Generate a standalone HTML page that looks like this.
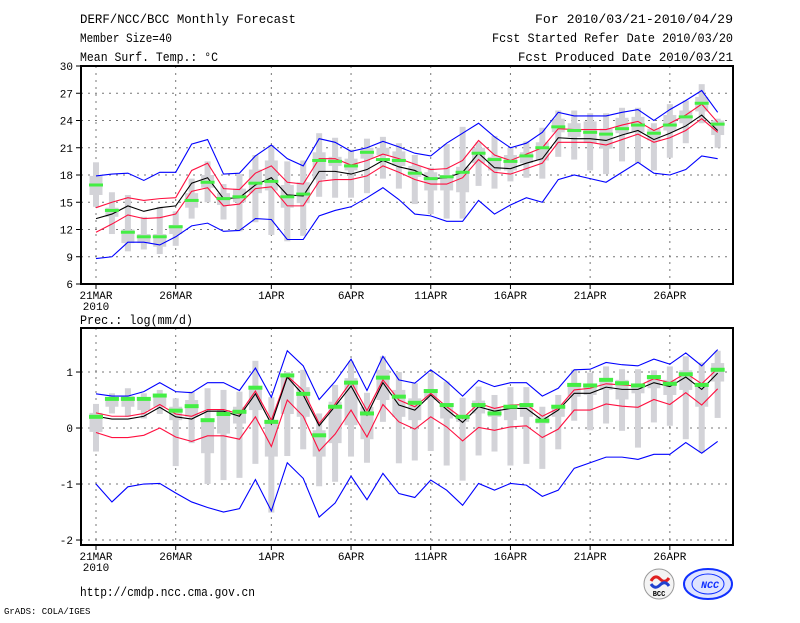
<!DOCTYPE html>
<html><head><meta charset="utf-8"><style>
body{margin:0;background:#fff;width:800px;height:618px;overflow:hidden}
svg text{font-family:"Liberation Mono","DejaVu Sans Mono",monospace;fill:#000}
</style></head><body>
<svg id="c" width="800" height="618" viewBox="0 0 800 618" xmlns="http://www.w3.org/2000/svg">
<text x="80" y="23" font-size="13" textLength="216" lengthAdjust="spacingAndGlyphs">DERF/NCC/BCC Monthly Forecast</text>
<text x="80" y="42" font-size="13" textLength="92" lengthAdjust="spacingAndGlyphs">Member Size=40</text>
<text x="80" y="61" font-size="13" textLength="138" lengthAdjust="spacingAndGlyphs">Mean Surf. Temp.: °C</text>
<text x="535" y="23" font-size="13" textLength="198" lengthAdjust="spacingAndGlyphs">For 2010/03/21-2010/04/29</text>
<text x="492" y="42" font-size="13" textLength="241" lengthAdjust="spacingAndGlyphs">Fcst Started Refer Date 2010/03/20</text>
<text x="518" y="61" font-size="13" textLength="215" lengthAdjust="spacingAndGlyphs">Fcst Produced Date 2010/03/21</text>
<text x="80" y="324" font-size="13" textLength="113" lengthAdjust="spacingAndGlyphs">Prec.: log(mm/d)</text>
<text x="80" y="596" font-size="13" textLength="175" lengthAdjust="spacingAndGlyphs">http://cmdp.ncc.cma.gov.cn</text>
<text x="4" y="614" font-size="9">GrADS: COLA/IGES</text>
<g>
<circle cx="659" cy="584" r="15" fill="#f4f4f4" stroke="#999" stroke-width="1"/>
<path d="M651 581 q4 -7 9 -2 q5 5 9 -1" stroke="#e02020" stroke-width="3" fill="none"/>
<path d="M651 584 q4 6 9 1 q5 -5 9 1" stroke="#2040d0" stroke-width="3" fill="none"/>
<text x="659" y="596" font-size="7" text-anchor="middle" font-family="Liberation Serif,serif" font-weight="bold">BCC</text>
</g>
<g>
<ellipse cx="708" cy="584" rx="24" ry="15" fill="#dfe4ff" stroke="#1030ff" stroke-width="2"/>
<ellipse cx="708" cy="584" rx="16" ry="10" fill="none" stroke="#1030ff" stroke-width="1"/>
<text x="710" y="588" font-size="10" text-anchor="middle" fill="#1030ff" style="fill:#1030ff;font-style:italic;font-weight:bold">NCC</text>
</g>
</svg>
<script>
// ---- data ----
const days = ["21MAR","26MAR","1APR","6APR","11APR","16APR","21APR","26APR"];
const dayIdx = [0,5,11,16,21,26,31,36];
const tTicks = [6,9,12,15,18,21,24,27,30];
const pTicks = [-2,-1,0,1];
const tBlueHi = [17.9,18.1,18.2,17.4,18.3,18.3,21.4,21.9,18.1,18.2,20.1,21.3,19.8,19.0,22.0,21.6,20.6,21.0,21.7,21.1,20.4,20.1,21.5,22.6,23.7,22.2,21.0,21.5,22.7,24.9,24.5,24.5,24.5,24.9,25.2,24.0,25.2,26.2,27.3,24.9];
const tRedHi = [14.4,15.0,15.5,15.2,15.4,15.5,18.5,19.3,16.5,16.4,18.2,19.0,17.2,17.0,19.8,19.8,19.1,19.6,20.3,19.8,19.2,18.6,18.7,19.6,21.8,20.2,19.6,20.3,21.0,23.1,23.0,23.0,23.0,23.5,23.9,22.9,23.7,24.6,25.8,23.8];
const tMean = [13.2,13.7,14.6,14.0,14.4,14.6,17.1,17.7,15.4,15.5,16.9,17.7,15.8,15.7,18.4,18.4,18.1,18.6,19.6,18.9,18.5,17.6,17.7,18.3,20.4,18.8,18.7,19.3,19.8,22.1,22.0,22.0,21.8,22.4,22.9,21.9,22.6,23.4,24.6,22.9];
const tRedLo = [11.7,12.6,13.6,13.2,13.3,13.7,16.2,16.6,14.6,14.8,16.5,16.7,14.6,14.6,17.3,17.5,17.5,17.9,19.0,18.3,17.5,17.0,17.0,17.7,19.7,18.3,18.1,18.7,19.3,21.6,21.6,21.6,21.3,21.9,22.5,21.6,22.1,22.9,24.2,22.7];
const tBlueLo = [8.8,9.0,10.6,10.6,10.3,11.2,12.4,12.7,11.8,11.9,13.2,13.1,10.9,10.9,13.5,14.1,14.5,15.5,16.6,15.3,13.7,13.5,12.9,12.9,15.2,13.7,14.7,15.5,15.0,17.5,18.0,17.6,17.2,18.3,19.4,18.2,18.0,18.6,20.1,19.8];
const tGreen = [16.9,14.1,11.7,11.2,11.2,12.3,15.2,17.2,15.4,15.6,17.1,17.3,15.6,15.9,19.6,19.5,19.0,20.5,19.7,19.6,18.2,17.6,17.8,18.3,20.4,19.7,19.5,20.1,21.0,23.3,22.9,22.7,22.5,23.1,23.5,22.6,23.5,24.4,25.9,23.6];
const tWhHi = [19.4,16.1,15.8,13.4,14.5,14.0,17.6,19.5,17.0,18.1,20.2,21.3,19.5,19.6,22.6,22.1,20.8,22.0,22.2,21.5,20.2,18.8,21.4,23.3,21.6,22.3,21.0,21.7,23.2,25.1,25.1,24.8,24.8,25.4,25.4,23.7,25.8,26.2,28.0,24.2];
const tWhLo = [14.5,11.5,9.6,9.8,9.3,10.2,13.2,15.0,13.1,11.8,12.8,11.4,10.7,11.3,15.6,15.5,15.5,16.0,17.6,16.5,14.8,13.7,13.2,13.2,16.8,16.5,17.3,17.7,17.6,20.0,19.7,18.5,18.1,19.5,19.3,18.5,19.9,21.5,23.7,21.0];
const tBxHi = [17.9,14.4,12.0,11.5,11.5,12.5,16.0,18.0,16.0,16.5,18.6,19.6,16.9,17.2,20.5,20.0,19.8,21.0,21.0,20.6,19.0,18.3,18.0,18.9,21.0,20.0,20.2,20.5,21.6,24.2,23.7,23.9,23.1,24.3,24.4,23.1,24.6,25.1,26.6,24.0];
const tBxLo = [15.8,13.4,10.5,10.5,10.1,11.5,14.4,16.6,14.7,15.0,16.0,16.3,14.4,14.9,17.5,19.0,18.5,19.8,20.2,19.0,17.8,16.3,16.3,16.1,19.3,18.5,18.5,19.3,19.6,22.7,22.2,21.5,20.9,22.6,22.7,21.8,22.9,23.7,25.0,22.4];
const pBlueHi = [0.61,0.57,0.57,0.65,0.81,0.65,0.63,0.81,0.81,0.67,1.07,0.55,1.38,1.11,0.51,0.83,1.23,0.67,1.28,0.86,0.80,1.04,0.83,0.57,0.85,0.74,0.81,0.81,0.57,0.71,1.04,1.05,1.17,1.13,1.11,1.23,1.14,1.34,1.11,1.40];
const pRedHi = [0.27,0.21,0.21,0.26,0.42,0.25,0.21,0.33,0.33,0.25,0.66,0.14,0.93,0.67,0.08,0.43,0.83,0.31,0.86,0.50,0.38,0.62,0.38,0.17,0.44,0.35,0.41,0.42,0.21,0.35,0.68,0.71,0.79,0.77,0.75,0.88,0.81,0.98,0.79,1.06];
const pMean = [0.21,0.16,0.16,0.21,0.37,0.20,0.16,0.30,0.30,0.21,0.61,0.07,0.91,0.59,0.04,0.39,0.75,0.23,0.81,0.41,0.32,0.59,0.33,0.10,0.38,0.30,0.35,0.35,0.14,0.32,0.62,0.62,0.73,0.69,0.69,0.81,0.74,0.91,0.69,0.98];
const pRedLo = [-0.08,-0.17,-0.17,-0.13,0.0,-0.16,-0.24,-0.14,-0.14,-0.20,0.20,-0.33,0.50,0.21,-0.41,-0.11,0.32,-0.16,0.42,0.11,-0.02,0.20,0.02,-0.23,0.01,-0.04,0.02,0.04,-0.17,-0.02,0.32,0.32,0.43,0.39,0.37,0.51,0.42,0.63,0.41,0.70];
const pBlueLo = [-1.0,-1.32,-1.05,-1.0,-0.99,-1.16,-1.32,-1.42,-1.50,-1.44,-0.92,-1.48,-0.62,-0.90,-1.59,-1.34,-0.86,-1.28,-0.81,-1.17,-1.24,-0.93,-1.11,-1.38,-0.99,-1.11,-0.99,-1.02,-1.22,-1.11,-0.72,-0.62,-0.52,-0.52,-0.56,-0.47,-0.47,-0.26,-0.45,-0.24];
const pGreen = [0.20,0.52,0.52,0.52,0.58,0.31,0.39,0.14,0.25,0.29,0.72,0.11,0.94,0.61,-0.13,0.38,0.81,0.26,0.90,0.56,0.45,0.66,0.41,0.20,0.41,0.26,0.38,0.41,0.13,0.38,0.77,0.76,0.86,0.80,0.76,0.91,0.79,0.96,0.77,1.04];
const pWhHi = [0.43,0.62,0.71,0.62,0.68,0.53,0.65,0.71,0.68,0.65,1.20,0.55,1.0,1.04,0.26,0.77,1.19,0.63,1.28,1.0,0.80,0.98,0.83,0.54,0.74,0.59,0.73,0.73,0.38,0.59,1.04,0.99,1.10,1.05,1.05,1.03,1.10,1.28,1.17,1.38];
const pWhLo = [-0.42,0.26,0.20,0.17,0.25,-0.68,-0.27,-1.0,-0.93,-0.89,-0.64,-1.51,-0.50,-0.38,-1.04,-0.96,-0.51,-0.62,0.11,-0.63,-0.58,-0.41,-0.67,-0.94,-0.49,-0.42,-0.67,-0.64,-0.73,-0.38,0.13,-0.04,0.08,-0.05,-0.35,0.10,0.04,-0.20,-0.44,0.18];
const pBxHi = [0.27,0.53,0.57,0.53,0.59,0.38,0.50,0.14,0.32,0.38,0.75,0.14,0.95,0.73,-0.04,0.47,0.89,0.38,1.04,0.68,0.53,0.65,0.38,0.19,0.49,0.35,0.41,0.44,0.20,0.41,0.77,0.77,0.86,0.86,0.79,0.92,0.86,1.03,0.81,1.16];
const pBxLo = [-0.07,0.38,0.38,0.32,0.38,0.14,0.20,-0.45,-0.10,0.08,0.32,-0.51,0.25,0.20,-0.51,-0.27,0.05,-0.20,0.50,0.20,0.14,0.50,0.17,0.11,0.26,0.20,0.14,0.20,0.08,0.20,0.56,0.59,0.68,0.51,0.62,0.71,0.59,0.68,0.38,0.83];

const svg=document.getElementById('c');
const NS='http://www.w3.org/2000/svg';
function mk(tag,attrs,parent){const e=document.createElementNS(NS,tag);for(const k in attrs)e.setAttribute(k,attrs[k]);(parent||svg).appendChild(e);return e;}
const X0=81,X1=733;
function xs(i){return 96+15.94*i;}

function panel(cfg){
  const g=mk('g',{});
  
  
  const ys=v=>cfg.yTop+(cfg.vTop-v)*cfg.k;
  cfg.ticks.forEach(t=>{
    const y=ys(t);
    if(y>cfg.yTop+2&&y<cfg.yBot-1){
      const l=mk('line',{x1:X0,x2:X1,y1:y,y2:y,stroke:'#777','stroke-dasharray':'2,5','stroke-width':1},g);
      
      
    }
    const tk=mk('line',{x1:X0-5,x2:X0,y1:y,y2:y,stroke:'#000','stroke-width':1},g);
    
    
    const tx=mk('text',{x:X0-8,y:y+4,'font-size':11,'text-anchor':'end'},g);
    tx.textContent=t;
    
    
  });
  dayIdx.forEach((d,j)=>{
    const x=xs(d);
    const l=mk('line',{x1:x,x2:x,y1:cfg.yTop,y2:cfg.yBot,stroke:'#777','stroke-dasharray':'2,5','stroke-width':1},g);
    
    
    const tk=mk('line',{x1:x,x2:x,y1:cfg.yBot,y2:cfg.yBot+5,stroke:'#000','stroke-width':1},g);
    
    
    const tx=mk('text',{x:x,y:cfg.yBot+15,'font-size':11,'text-anchor':'middle'},g);
    tx.textContent=days[j];
    
    
  });
  const yr=mk('text',{x:xs(0),y:cfg.yBot+26,'font-size':11,'text-anchor':'middle'},g);
  yr.textContent='2010';
  
  
  cfg.whHi.forEach((v,i)=>{
    const x=xs(i);
    const w=mk('rect',{x:x-3,y:ys(v),width:6,height:ys(cfg.whLo[i])-ys(v),fill:'#d3d3d8'},g);
    
    
    const b=mk('rect',{x:x-6.5,y:ys(cfg.bxHi[i]),width:13,height:Math.max(1,ys(cfg.bxLo[i])-ys(cfg.bxHi[i])),fill:'#d3d3d8'},g);
    
    
  });
  const series=[[cfg.blueLo,'#0000ff','min-line'],[cfg.blueHi,'#0000ff','max-line'],[cfg.redLo,'#ff1040','lower-line'],[cfg.redHi,'#ff1040','upper-line'],[cfg.mean,'#000','ensemble-mean-line']];
  series.forEach(s=>{
    const p=mk('polyline',{points:s[0].map((v,i)=>xs(i)+','+ys(v)).join(' '),fill:'none',stroke:s[1],'stroke-width':1.1},g);
    
    
  });
  cfg.green.forEach((v,i)=>{
    const r=mk('rect',{x:xs(i)-7,y:ys(v)-cfg.gh/2,width:14,height:cfg.gh,fill:'#44ee44'},g);
    
    
  });
  const f=mk('rect',{x:X0,y:cfg.yTop,width:X1-X0,height:cfg.yBot-cfg.yTop,fill:'none',stroke:'#000','stroke-width':2},g);
  
  
}
panel({name:'temperature-panel',yTop:66,yBot:284,vTop:30,k:218/24,ticks:tTicks,gh:3,
  blueHi:tBlueHi,redHi:tRedHi,mean:tMean,redLo:tRedLo,blueLo:tBlueLo,green:tGreen,whHi:tWhHi,whLo:tWhLo,bxHi:tBxHi,bxLo:tBxLo});
panel({name:'precipitation-panel',yTop:328,yBot:545,vTop:1.786,k:56,ticks:pTicks,gh:4,
  blueHi:pBlueHi,redHi:pRedHi,mean:pMean,redLo:pRedLo,blueLo:pBlueLo,green:pGreen,whHi:pWhHi,whLo:pWhLo,bxHi:pBxHi,bxLo:pBxLo});
</script>
</body></html>
